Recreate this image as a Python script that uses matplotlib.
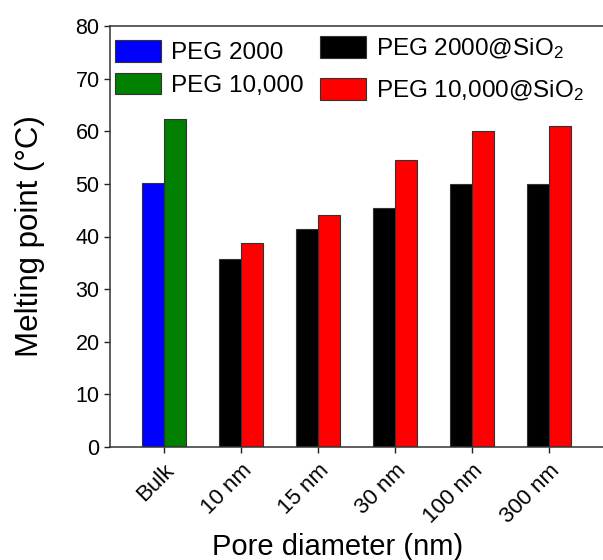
import numpy as np
import matplotlib
matplotlib.use('Agg')
import matplotlib.pyplot as plt
from matplotlib.patches import Patch

plt.rcParams['font.family'] = ['Liberation Sans', 'DejaVu Sans']
plt.rcParams['mathtext.fontset'] = 'custom'
plt.rcParams['mathtext.rm'] = 'Liberation Sans'
plt.rcParams['mathtext.default'] = 'regular'

# data
categories = ['Bulk', '10 nm', '15 nm', '30 nm', '100 nm', '300 nm']
bulk_labels = ['PEG 2000', 'PEG 10,000']
bulk_values = [50.1, 62.3]
peg2000_sio2 = [35.8, 41.5, 45.5, 49.9, 49.9]
peg10000_sio2 = [38.7, 44.1, 54.6, 60.0, 61.0]
yticks = [0, 10, 20, 30, 40, 50, 60, 70, 80]

W, H = 603, 560
fig = plt.figure(figsize=(W/100, H/100), dpi=100)
ax = fig.add_axes([110/W, 113/H, 510/W, 421/H])

w = 0.29
edge = dict(edgecolor='#333333', linewidth=0.8)
x = np.arange(len(categories))

ax.bar(x[0] - w/2, bulk_values[0], w, color='#0000ff', **edge)
ax.bar(x[0] + w/2, bulk_values[1], w, color='#007f00', **edge)
ax.bar(x[1:] - w/2, peg2000_sio2, w, color='#000000', **edge)
ax.bar(x[1:] + w/2, peg10000_sio2, w, color='#ff0000', **edge)

ax.set_xlim(-0.70, 5.92)
ax.set_ylim(0, 80)
ax.set_yticks(yticks)
ax.set_xticks(x)
ax.set_xticklabels(categories, rotation=45, ha='right', va='top',
                   rotation_mode='anchor', fontsize=16)
ax.tick_params(axis='y', labelsize=15.5, pad=3)
ax.tick_params(axis='x', pad=5)
ax.tick_params(direction='out', length=4.5, width=1.0, color='#222222')

ax.spines['right'].set_visible(False)
for s in ['left', 'bottom', 'top']:
    ax.spines[s].set_linewidth(1.1)
    ax.spines[s].set_color('#333333')

ax.set_ylabel('Melting point (°C)', fontsize=22.5, va='baseline')
ax.yaxis.set_label_coords((38 - 110) / 510, 0.502)
ax.set_xlabel('Pore diameter (nm)', fontsize=21, va='baseline')
ax.xaxis.set_label_coords((337.5 - 110) / 510, -(555 - 447) / 421)

# legends, two columns like the original
lkw = dict(loc='upper left', bbox_transform=fig.transFigure, frameon=False,
           fontsize=17.5, handlelength=1.9, handleheight=1.0,
           handletextpad=0.4, borderaxespad=0, borderpad=0)
h1 = [Patch(facecolor='#0000ff', **edge), Patch(facecolor='#007f00', **edge)]
leg1 = ax.legend(h1, bulk_labels, bbox_to_anchor=(115/W, 1 - 40/H),
                 labelspacing=0.35, **lkw)
ax.add_artist(leg1)
h2 = [Patch(facecolor='#000000', **edge), Patch(facecolor='#ff0000', **edge)]
ax.legend(h2, ['PEG 2000@SiO$_2$', 'PEG 10,000@SiO$_2$'],
          bbox_to_anchor=(320/W, 1 - 36/H), labelspacing=0.7, **lkw)

plt.savefig('out.png', dpi=100)
